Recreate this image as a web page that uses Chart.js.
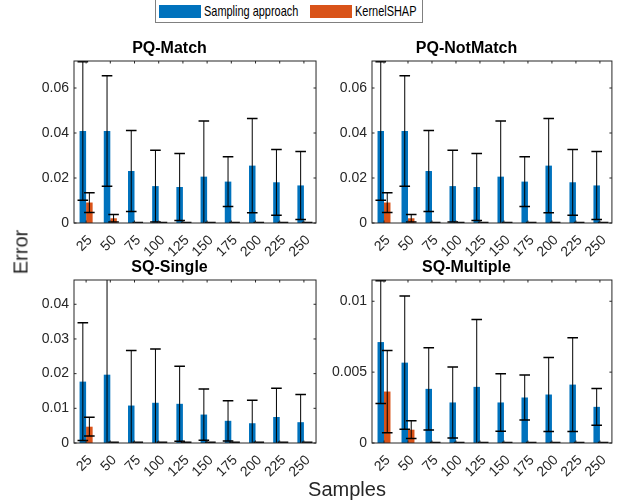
<!DOCTYPE html>
<html>
<head>
<meta charset="utf-8">
<script src="https://cdn.jsdelivr.net/npm/chart.js@4/dist/chart.umd.min.js"></script>
<style>
  body { margin: 0; background: #fff; font-family: "Liberation Sans", Arial, sans-serif; }
  #fig { position: relative; width: 628px; height: 503px; overflow: hidden; }
  #fig canvas { position: absolute; }
  #legend { position: absolute; left: 155px; top: -1px; width: 266px; height: 22px; border: 1px solid #808080; background: #fff; }
  #legend .sw { position: absolute; top: 5px; width: 42px; height: 13px; }
  #legend .tx { position: absolute; top: 2px; font-size: 15px; line-height: 18px; color: #000; white-space: nowrap; transform: scaleX(0.73); transform-origin: left center; }
  .lab { position: absolute; font-size: 20px; color: #262626; white-space: nowrap; }
</style>
</head>
<body>
<div id="fig">
  <div id="legend">
    <div class="sw" style="left:3px;background:#0072BD"></div>
    <div class="tx" style="left:48px">Sampling approach</div>
    <div class="sw" style="left:154px;background:#D95319"></div>
    <div class="tx" style="left:199px">KernelSHAP</div>
  </div>
  <canvas id="pqMatch" width="307" height="239" style="left:18px;top:34px"></canvas>
  <canvas id="pqNotMatch" width="305" height="239" style="left:316px;top:34px"></canvas>
  <canvas id="sqSingle" width="307" height="240" style="left:18px;top:253px"></canvas>
  <canvas id="sqMultiple" width="305" height="240" style="left:316px;top:253px"></canvas>
  <div class="lab" id="ylab" style="left:21px;top:252px;transform:translate(-50%,-50%) rotate(-90deg)">Error</div>
  <div class="lab" id="xlab" style="left:347px;top:489px;transform:translate(-50%,-50%)">Samples</div>
</div>
<script>
// x categories (number of samples)
const samples = ['25', '50', '75', '100', '125', '150', '175', '200', '225', '250'];

// PQ-Match: mean error and standard deviation
const pqMatchSampling   = [0.0409, 0.0409, 0.0231, 0.0164, 0.0160, 0.0206, 0.0184, 0.0255, 0.0181, 0.0167];
const pqMatchSamplingSd = [0.0308, 0.0246, 0.0180, 0.0159, 0.0149, 0.0247, 0.0111, 0.0209, 0.0146, 0.0151];
const pqMatchKernel     = [0.0091, 0.0021, 0.0001, 0.0001, 0.0001, 0.0001, 0.0001, 0.0001, 0.0001, 0.0001];
const pqMatchKernelSd   = [0.0044, 0.0017, 0.0001, 0.0001, 0.0001, 0.0001, 0.0001, 0.0001, 0.0001, 0.0001];

// PQ-NotMatch
const pqNotMatchSampling   = [0.0409, 0.0409, 0.0231, 0.0164, 0.0160, 0.0206, 0.0184, 0.0255, 0.0181, 0.0167];
const pqNotMatchSamplingSd = [0.0308, 0.0246, 0.0180, 0.0159, 0.0149, 0.0247, 0.0111, 0.0209, 0.0146, 0.0151];
const pqNotMatchKernel     = [0.0091, 0.0021, 0.0001, 0.0001, 0.0001, 0.0001, 0.0001, 0.0001, 0.0001, 0.0001];
const pqNotMatchKernelSd   = [0.0044, 0.0017, 0.0001, 0.0001, 0.0001, 0.0001, 0.0001, 0.0001, 0.0001, 0.0001];

// SQ-Single
const sqSingleSampling   = [0.0177, 0.0197, 0.0108, 0.0116, 0.0113, 0.0082, 0.0064, 0.0057, 0.0075, 0.0060];
const sqSingleSamplingSd = [0.0170, 0.0290, 0.0159, 0.0155, 0.0108, 0.0074, 0.0058, 0.0066, 0.0083, 0.0080];
const sqSingleKernel     = [0.0047, 0.0001, 0.0001, 0.0001, 0.0001, 0.0001, 0.0001, 0.0001, 0.0001, 0.0001];
const sqSingleKernelSd   = [0.0027, 0.0001, 0.0001, 0.0001, 0.0001, 0.0001, 0.0001, 0.0001, 0.0001, 0.0001];

// SQ-Multiple
const sqMultipleSampling   = [0.00712, 0.00567, 0.00382, 0.00286, 0.00396, 0.00286, 0.00321, 0.00342, 0.00412, 0.00255];
const sqMultipleSamplingSd = [0.00433, 0.00470, 0.00290, 0.00250, 0.00475, 0.00203, 0.00158, 0.00261, 0.00330, 0.00129];
const sqMultipleKernel     = [0.00363, 0.00094, 0.00002, 0.00002, 0.00002, 0.00002, 0.00002, 0.00002, 0.00002, 0.00002];
const sqMultipleKernelSd   = [0.00290, 0.00063, 0.00002, 0.00002, 0.00002, 0.00002, 0.00002, 0.00002, 0.00002, 0.00002];

const blue = '#0072BD';
const orange = '#D95319';
const axisColor = '#262626';
const fontFamily = '"Liberation Sans", Arial, sans-serif';

// error bars (mean +/- sd), clipped to the axes like matlab
const errorBars = {
  id: 'errorBars',
  afterDatasetsDraw(chart) {
    const { ctx, chartArea: a } = chart;
    const y = chart.scales.y;
    ctx.save();
    ctx.beginPath();
    ctx.rect(a.left, a.top, a.right - a.left, a.bottom - a.top);
    ctx.clip();
    ctx.strokeStyle = '#000';
    chart.data.datasets.forEach((ds, i) => {
      chart.getDatasetMeta(i).data.forEach((bar, j) => {
        const lo = y.getPixelForValue(ds.data[j] - ds.sd[j]);
        const hi = y.getPixelForValue(ds.data[j] + ds.sd[j]);
        ctx.lineWidth = 1;
        ctx.beginPath();
        ctx.moveTo(bar.x, lo);
        ctx.lineTo(bar.x, hi);
        ctx.stroke();
        ctx.lineWidth = 1.5;
        ctx.beginPath();
        ctx.moveTo(bar.x - 5.3, lo); ctx.lineTo(bar.x + 5.3, lo);
        ctx.moveTo(bar.x - 5.3, hi); ctx.lineTo(bar.x + 5.3, hi);
        ctx.stroke();
      });
    });
    ctx.restore();
  }
};

// box around the axes with inward ticks on all four sides
const axesBox = {
  id: 'axesBox',
  afterDraw(chart) {
    const { ctx, chartArea: a, scales: { x, y } } = chart;
    const t = 2.5;
    ctx.save();
    ctx.strokeStyle = axisColor;
    ctx.lineWidth = 1;
    ctx.strokeRect(a.left, a.top, a.right - a.left, a.bottom - a.top);
    ctx.beginPath();
    y.ticks.forEach(tk => {
      const p = y.getPixelForValue(tk.value);
      ctx.moveTo(a.left, p); ctx.lineTo(a.left + t, p);
      ctx.moveTo(a.right, p); ctx.lineTo(a.right - t, p);
    });
    x.ticks.forEach((tk, i) => {
      const p = x.getPixelForTick(i);
      ctx.moveTo(p, a.top); ctx.lineTo(p, a.top + t);
      ctx.moveTo(p, a.bottom); ctx.lineTo(p, a.bottom - t);
    });
    ctx.stroke();
    ctx.restore();
  }
};

function makePanel(id, title, sampling, samplingSd, kernel, kernelSd, yMax, yStep) {
  return new Chart(document.getElementById(id), {
    type: 'bar',
    data: {
      labels: samples,
      datasets: [
        { label: 'Sampling approach', data: sampling, sd: samplingSd, backgroundColor: blue },
        { label: 'KernelSHAP', data: kernel, sd: kernelSd, backgroundColor: orange }
      ]
    },
    options: {
      responsive: false,
      animation: false,
      devicePixelRatio: 1,
      datasets: { bar: { categoryPercentage: 0.54, barPercentage: 1.0 } },
      layout: { padding: { left: 0, right: 4, top: 0, bottom: 0 } },
      plugins: {
        legend: { display: false },
        tooltip: { enabled: false },
        title: {
          display: true,
          text: title,
          color: '#000',
          font: { family: fontFamily, size: 16, weight: 'bold', lineHeight: 1.25 },
          padding: { top: 5, bottom: 2 }
        }
      },
      scales: {
        x: {
          grid: { display: false, drawTicks: false },
          border: { display: false },
          ticks: {
            autoSkip: false, minRotation: 45, maxRotation: 45, padding: 9, labelOffset: 4,
            color: axisColor, font: { family: fontFamily, size: 14 }
          },
          afterFit: s => { s.height = 50; }
        },
        y: {
          min: 0,
          max: yMax,
          grid: { display: false, drawTicks: false },
          border: { display: false },
          ticks: {
            stepSize: yStep, includeBounds: false, padding: 5,
            color: axisColor, font: { family: fontFamily, size: 14 },
            callback: v => String(parseFloat(v.toFixed(6)))
          },
          afterFit: s => { s.width = 56; }
        }
      }
    },
    plugins: [errorBars, axesBox]
  });
}

makePanel('pqMatch', 'PQ-Match', pqMatchSampling, pqMatchSamplingSd, pqMatchKernel, pqMatchKernelSd, 0.072, 0.02);
makePanel('pqNotMatch', 'PQ-NotMatch', pqNotMatchSampling, pqNotMatchSamplingSd, pqNotMatchKernel, pqNotMatchKernelSd, 0.072, 0.02);
makePanel('sqSingle', 'SQ-Single', sqSingleSampling, sqSingleSamplingSd, sqSingleKernel, sqSingleKernelSd, 0.047, 0.01);
makePanel('sqMultiple', 'SQ-Multiple', sqMultipleSampling, sqMultipleSamplingSd, sqMultipleKernel, sqMultipleKernelSd, 0.0115, 0.005);
</script>
</body>
</html>
